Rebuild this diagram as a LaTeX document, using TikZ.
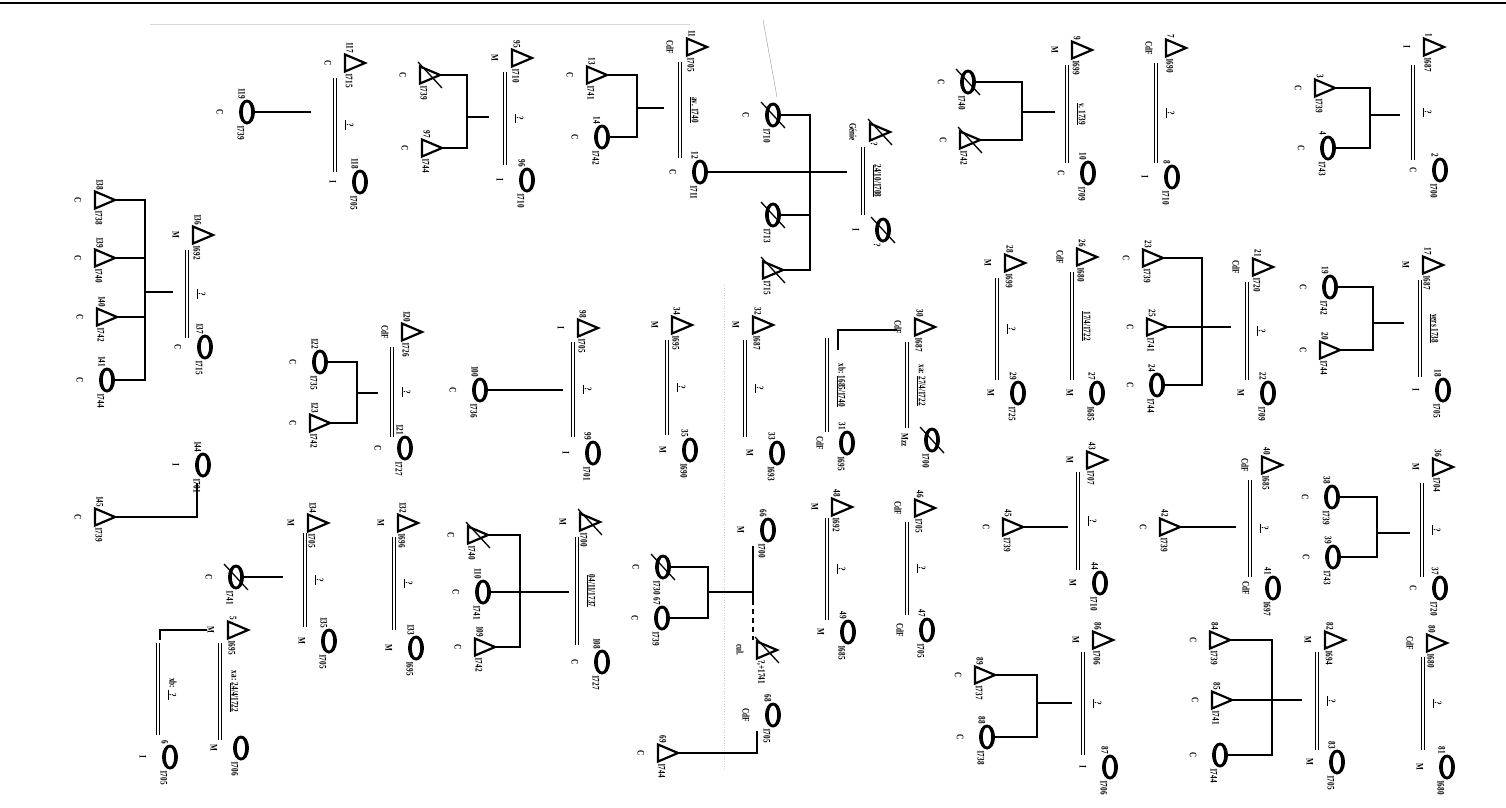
\documentclass[tikz,border=0pt]{standalone}
\usepackage{fontspec}
\setmainfont{Liberation Serif}
\newfontfamily\chartfont[FakeStretch=0.72]{Liberation Serif}
\usetikzlibrary{shapes.geometric, calc}

% symbols and lines of the chart
\tikzset{
  male/.style={minimum width=20pt, minimum height=17pt, inner sep=0pt, outer sep=0pt},
  maleline/.style={line width=2.2pt, line join=miter},
  female/.style={ellipse, minimum width=16pt, minimum height=25pt, inner sep=0pt, outer sep=0pt},
  slash/.style={line width=1.3pt},
  lbl/.style={rotate=-90, inner sep=0pt, font=\fontsize{10}{11}\chartfont\bfseries},
  wedline/.style={double, double distance=1.6pt, line width=1.5pt},
  kin/.style={line width=2.6pt},
}

% a man: name, x, y, number, year, status
\newcommand{\mperson}[6]{%
  \node[male] (#1) at (#2,#3) {};
  \draw[maleline] (#1.south west) -- (#1.east) -- (#1.north west) -- cycle;
  \node[lbl, anchor=east] at (#2-5,#3-10) {#4};
  \node[lbl, anchor=west] at (#2-6,#3+10) {#5};
  \node[lbl] at (#2-27,#3) {#6};
}
% a woman: name, x, y, number, year, status
\newcommand{\fperson}[6]{%
  \node[female] (#1) at (#2,#3) {};
  \fill[even odd rule] (#1.center) ellipse [x radius=8pt, y radius=12.5pt]
    (#1.center) ellipse [x radius=4.2pt, y radius=9.6pt];
  \node[lbl, anchor=east] at (#2-5,#3-13) {#4};
  \node[lbl, anchor=west] at (#2-6,#3+13) {#5};
  \node[lbl] at (#2-27,#3) {#6};
}
% crossed out
\newcommand{\deceased}[1]{%
  \draw[slash] ([shift={(-12pt,13pt)}]#1.center) -- ([shift={(12pt,-13pt)}]#1.center);
}
% marriage: name, x, top, bottom, label
\newcommand{\wed}[5]{%
  \coordinate (#1a) at (#2,#3);
  \coordinate (#1b) at (#2,#4);
  \draw[wedline] (#1a) -- (#1b);
  \node[lbl] at (#2+14,{(#3+#4)/2}) {#5};
}
\newcommand{\uq}{\underline{\hspace{3pt}?\hspace{3pt}}}

\begin{document}
\begin{tikzpicture}[x=1pt, y=-1pt]
  \fill[white] (0,0) rectangle (1506,807);
  \useasboundingbox (0,0) rectangle (1506,807);
  \draw[line width=1.5pt] (0,3) -- (1506,3);

  % scan marks
  \draw[black!15, line width=0.6pt] (150,24) -- (690,24);
  \draw[black!35, line width=0.5pt] (763,20) -- (777,97);
  \draw[black!20, line width=0.6pt, dotted] (724,285) -- (724,770);

  % first row
  \mperson{p1}{1434}{47}{1}{1687}{I}
  \fperson{p2}{1440}{170}{2}{1700}{C}
  \mperson{p3}{1325}{88}{3}{1739}{C}
  \fperson{p4}{1328}{148}{4}{1743}{C}
  \mperson{p7}{1176}{48}{7}{1690}{CdF}
  \fperson{p8}{1172}{177}{8}{1710}{I}
  \mperson{p9}{1082}{50}{9}{1699}{M}
  \fperson{p10}{1088}{173}{10}{1709}{C}
  \fperson{p9a}{968}{82}{}{1740}{C}
  \mperson{p9b}{970}{140}{}{1742}{C}
  \mperson{pg}{880}{132}{}{?}{Génie}
  \fperson{pgw}{883}{230}{}{?}{I}
  \fperson{pg1}{773}{115}{}{1710}{C}
  \fperson{pg2}{773}{215}{}{1713}{}
  \mperson{pg3}{773}{270}{}{1715}{}
  \mperson{p11}{697}{47}{11}{1705}{CdF}
  \fperson{p12}{700}{172}{12}{1711}{C}
  \mperson{p13}{597}{75}{13}{1741}{C}
  \fperson{p14}{602}{137}{14}{1742}{C}
  \mperson{p95}{522}{58}{95}{1710}{M}
  \fperson{p96}{527}{180}{96}{1710}{I}
  \mperson{p95a}{430}{75}{}{1739}{C}
  \mperson{p97}{432}{148}{97}{1744}{C}
  \mperson{p117}{355}{63}{117}{1715}{C}
  \fperson{p118}{360}{182}{118}{1705}{I}
  \fperson{p119}{247}{112}{119}{1739}{C}
  \deceased{p9a} \deceased{p9b} \deceased{pg} \deceased{pgw}
  \deceased{pg1} \deceased{pg2} \deceased{pg3} \deceased{p95a}

  % second row
  \mperson{p17}{1433}{265}{17}{1687}{M}
  \fperson{p18}{1443}{390}{18}{1705}{I}
  \fperson{p19}{1330}{287}{19}{1742}{C}
  \mperson{p20}{1330}{350}{20}{1744}{C}
  \mperson{p21}{1263}{267}{21}{1720}{CdF}
  \fperson{p22}{1268}{393}{22}{1709}{M}
  \mperson{p23}{1153}{258}{23}{1739}{C}
  \mperson{p25}{1157}{327}{25}{1741}{C}
  \fperson{p24}{1157}{385}{24}{1744}{C}
  \mperson{p26}{1087}{257}{26}{1680}{CdF}
  \fperson{p27}{1097}{393}{27}{1685}{M}
  \mperson{p28}{1015}{263}{28}{1699}{M}
  \fperson{p29}{1018}{393}{29}{1725}{M}
  \mperson{p30}{925}{327}{30}{1687}{CdF}
  \fperson{p30w}{932}{440}{}{1700}{Mzz}
  \fperson{p31}{847}{443}{31}{1695}{CdF}
  \mperson{p32}{763}{325}{32}{1687}{M}
  \fperson{p33}{777}{453}{33}{1693}{M}
  \mperson{p34}{682}{325}{34}{1695}{M}
  \fperson{p35}{690}{450}{35}{1690}{M}
  \mperson{p98}{588}{328}{98}{1705}{I}
  \fperson{p99}{593}{453}{99}{1701}{I}
  \fperson{p100}{480}{390}{100}{1736}{C}
  \mperson{p120}{412}{332}{120}{1726}{CdF}
  \fperson{p121}{405}{448}{121}{1727}{C}
  \fperson{p122}{320}{362}{122}{1735}{C}
  \mperson{p123}{320}{423}{123}{1742}{C}
  \mperson{p136}{203}{235}{136}{1692}{M}
  \fperson{p137}{205}{347}{137}{1715}{C}
  \mperson{p138}{105}{200}{138}{1738}{C}
  \mperson{p139}{105}{258}{139}{1740}{C}
  \mperson{p140}{107}{317}{140}{1742}{C}
  \fperson{p141}{107}{380}{141}{1744}{C}
  \deceased{p30w}

  % third row
  \mperson{p36}{1443}{467}{36}{1704}{M}
  \fperson{p37}{1440}{588}{37}{1720}{C}
  \fperson{p38}{1332}{497}{38}{1739}{C}
  \fperson{p39}{1333}{557}{39}{1743}{C}
  \mperson{p40}{1272}{465}{40}{1685}{CdF}
  \fperson{p41}{1273}{588}{41}{1697}{CdF}
  \mperson{p42}{1170}{527}{42}{1739}{C}
  \mperson{p43}{1097}{460}{43}{1707}{M}
  \fperson{p44}{1100}{583}{44}{1710}{M}
  \mperson{p45}{1013}{527}{45}{1739}{C}
  \mperson{p46}{925}{508}{46}{1705}{CdF}
  \fperson{p47}{927}{630}{47}{1705}{CdF}
  \mperson{p48}{842}{507}{48}{1692}{M}
  \fperson{p49}{848}{632}{49}{1685}{M}
  \fperson{p66}{768}{530}{66}{1700}{M}
  \mperson{p66h}{767}{650}{}{?,+1741}{cul.}
  \fperson{p66a}{663}{567}{}{1730}{C}
  \fperson{p67}{662}{618}{67}{1739}{C}
  \fperson{p68}{773}{715}{68}{1705}{CdF}
  \mperson{p69}{668}{753}{69}{1744}{C}
  \mperson{p108h}{590}{522}{}{1700}{M}
  \fperson{p108}{602}{662}{108}{1727}{C}
  \mperson{p108a}{478}{535}{}{1740}{C}
  \fperson{p110}{483}{592}{110}{1741}{C}
  \mperson{p109}{485}{647}{109}{1742}{C}
  \mperson{p132}{408}{523}{132}{1696}{M}
  \fperson{p133}{416}{648}{133}{1695}{M}
  \mperson{p134}{318}{523}{134}{1705}{M}
  \fperson{p135}{329}{641}{135}{1705}{M}
  \fperson{p134a}{236}{577}{}{1741}{C}
  \fperson{p144}{203}{465}{144}{1701}{I}
  \mperson{p145}{105}{517}{145}{1739}{C}
  \deceased{p66h} \deceased{p66a} \deceased{p108h} \deceased{p108a} \deceased{p134a}

  % bottom row
  \mperson{p80}{1437}{643}{80}{1680}{CdF}
  \fperson{p81}{1447}{767}{81}{1680}{M}
  \mperson{p82}{1335}{640}{82}{1694}{M}
  \fperson{p83}{1337}{762}{83}{1705}{M}
  \mperson{p84}{1220}{640}{84}{1739}{C}
  \mperson{p85}{1222}{700}{85}{1741}{C}
  \fperson{p86a}{1220}{755}{}{1744}{C}
  \mperson{p86}{1103}{640}{86}{1706}{M}
  \fperson{p87}{1110}{767}{87}{1706}{I}
  \mperson{p89}{985}{675}{89}{1737}{C}
  \fperson{p88}{987}{737}{88}{1738}{C}
  \mperson{p5}{238}{630}{5}{1695}{M}
  \fperson{p5w}{241}{748}{}{1706}{M}
  \fperson{p6}{170}{757}{6}{1705}{I}

  % marriages
  \wed{w1}{1413}{65}{160}{\uq}
  \wed{w7}{1156}{63}{163}{\uq}
  \wed{w9}{1067}{65}{163}{\underline{v. 1739}}
  \wed{wg}{863}{147}{215}{\underline{24/10/1708}}
  \wed{w11}{680}{62}{158}{\underline{av. 1740}}
  \wed{w95}{505}{72}{165}{\uq}
  \wed{w117}{335}{78}{172}{\uq}
  \wed{w17}{1420}{280}{377}{\underline{vers 1738}}
  \wed{w21}{1247}{282}{380}{\uq}
  \wed{w26}{1072}{272}{380}{\underline{17/4/1722}}
  \wed{w28}{997}{278}{380}{\uq}
  \wed{w30}{907}{342}{428}{xa: \underline{27/4/1722}}
  \wed{w31}{827}{338}{432}{xb: \underline{1685/1740}}
  \wed{w32}{745}{340}{437}{\uq}
  \wed{w34}{667}{340}{435}{\uq}
  \wed{w98}{573}{342}{437}{\uq}
  \wed{w120}{392}{347}{437}{\uq}
  \wed{w136}{187}{250}{338}{\uq}
  \wed{w36}{1422}{483}{577}{\uq}
  \wed{w40}{1250}{480}{577}{\uq}
  \wed{w43}{1078}{472}{570}{\uq}
  \wed{w46}{907}{522}{615}{\uq}
  \wed{w48}{827}{518}{620}{\uq}
  \wed{w108}{577}{537}{645}{\underline{04/11/1737}}
  \wed{w132}{394}{537}{630}{\uq}
  \wed{w134}{305}{533}{627}{\uq}
  \wed{w80}{1423}{657}{750}{\uq}
  \wed{w82}{1317}{652}{750}{\uq}
  \wed{w86}{1083}{652}{755}{\uq}
  \wed{w5}{220}{643}{740}{xa: \underline{24/4/1722}}
  \wed{w6}{158}{643}{735}{xb: \uq}

  % descent
  \coordinate (f1) at (1370,115);
  \draw[kin] ($(w1a |- f1)+(-13,0)$) -- (f1) (f1) |- (p3.east) (f1) |- (p4.east);
  \coordinate (f9) at (1022,112);
  \draw[kin] ($(w9a |- f9)+(-12,0)$) -- (f9) (f9) |- (p9a.east) (f9) |- (p9b.east);
  \coordinate (fg) at (810,172);
  \draw[kin] ($(wga |- fg)+(-16,0)$) -- (p12.east) (fg) |- (pg1.east) (fg) |- (pg2.east) (fg) |- (pg3.east);
  \coordinate (f11) at (637,108);
  \draw[kin] ($(w11a |- f11)+(-16,0)$) -- (f11) (f11) |- (p13.east) (f11) |- (p14.east);
  \coordinate (f95) at (467,117);
  \draw[kin] ($(w95a |- f95)+(-16,0)$) -- (f95) (f95) |- (p95a.east) (f95) |- (p97.east);
  \draw[kin] ($(w117a |- p119)+(-24,0)$) -- (p119.east);
  \coordinate (f17) at (1373,323);
  \draw[kin] ($(w17a |- f17)+(-16,0)$) -- (f17) (f17) |- (p19.east) (f17) |- (p20.east);
  \coordinate (f21) at (1202,327);
  \draw[kin] ($(w21a |- f21)+(-16,0)$) -- (p25.east) (f21) |- (p23.east) (f21) |- (p24.east);
  \coordinate (l30a) at (897,330);
  \coordinate (l30b) at (838,350);
  \draw[kin] (l30a) -| (l30b);
  \draw[kin] ($(w98a |- p100)+(-10,0)$) -- (p100.east);
  \coordinate (f120) at (357,393);
  \draw[kin] ($(w120a |- f120)+(-14,0)$) -- (f120) (f120) |- (p122.east) (f120) |- (p123.east);
  \coordinate (f136) at (145,292);
  \draw[kin] ($(w136a |- f136)+(-14,0)$) -- (f136) (f136) |- (p138.east) (f136) |- (p139.east)
    (f136) |- (p140.east) (f136) |- (p141.east);
  \coordinate (f36) at (1377,533);
  \draw[kin] ($(w36a |- f36)+(-12,0)$) -- (f36) (f36) |- (p38.east) (f36) |- (p39.east);
  \draw[kin] ($(w40a |- p42)+(-14,0)$) -- (p42.east);
  \draw[kin] ($(w43a |- p45)+(-10,0)$) -- (p45.east);
  \coordinate (w66a) at (753,546);
  \coordinate (w66m) at (753,600);
  \coordinate (w66b) at (753,640);
  \draw[kin] (w66a) -- (w66m);
  \draw[kin, dash pattern=on 5pt off 4pt] (w66m) -- (w66b);
  \coordinate (f66) at (708,592);
  \draw[kin] (w66a |- f66) -- (f66) (f66) |- (p66a.east) (f66) |- (p67.east);
  \coordinate (c68) at (757,731);
  \draw[kin] (c68) |- (p69.east);
  \coordinate (f108) at (520,592);
  \draw[kin] ($(w108a |- f108)+(-8,0)$) -- (p110.east) (f108) |- (p108a.east) (f108) |- (p109.east);
  \draw[kin] ($(w134a |- p134a)+(-22,0)$) -- (p134a.east);
  \coordinate (c144) at (197,483);
  \draw[kin] (c144) |- (p145.east);
  \coordinate (f82) at (1272,700);
  \draw[kin] ($(w82a |- f82)+(-15,0)$) -- (p85.east) (f82) |- (p84.east) (f82) |- (p86a.east);
  \coordinate (f86) at (1037,703);
  \draw[kin] ($(w86a |- f86)+(-11,0)$) -- (f86) (f86) |- (p89.east) (f86) |- (p88.east);
  \coordinate (l5a) at (207,630);
  \coordinate (l5b) at (160,640);
  \draw[kin] (l5a) -| (l5b);
\end{tikzpicture}
\end{document}
